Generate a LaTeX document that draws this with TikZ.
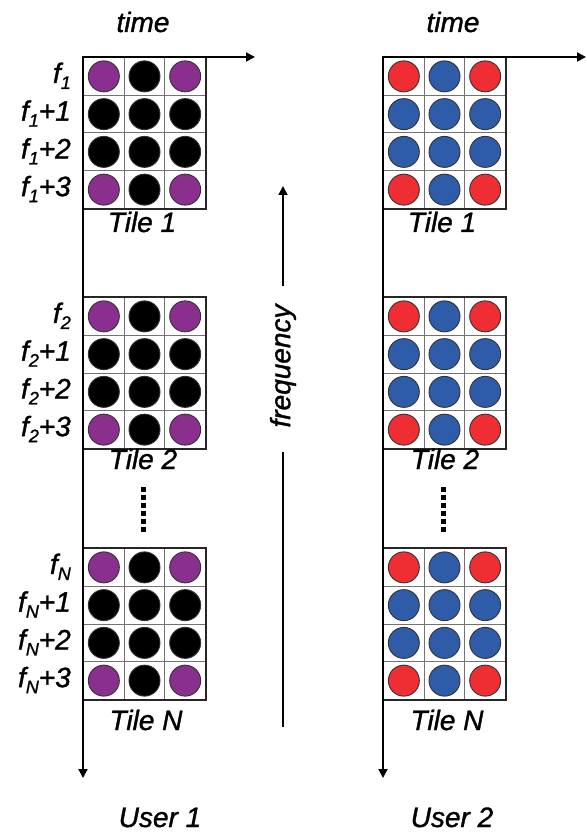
\documentclass[tikz,border=0pt]{standalone}
\usepackage{fontspec}
\setmainfont{Liberation Sans}
\newfontfamily\heavyfont[FakeBold=1.2]{Liberation Sans}
\usetikzlibrary{arrows.meta}
\definecolor{cpurple}{HTML}{8A2F8E}
\definecolor{cred}{HTML}{EE2E33}
\definecolor{cblue}{HTML}{2F5CA8}
\newcommand{\fsub}[1]{f\raisebox{-6pt}{\fontsize{18}{18}\selectfont #1}}
\begin{document}
\begin{tikzpicture}[x=1pt,y=-1pt,
  font=\heavyfont\fontsize{28}{30}\selectfont\itshape,
  cellbox/.style={draw=black!55, fill=white, line width=1pt, minimum width=40.67pt, minimum height=37.75pt, inner sep=0pt, anchor=north west},
  tileborder/.style={draw=black!85, line width=1.3pt},
  dotc/.style={circle, draw=black!80, line width=0.9pt, minimum size=31pt, inner sep=0pt},
  axis/.style={line width=1.8pt, -{Triangle[width=9pt,length=9pt]}},
  plainline/.style={line width=1.8pt},
  dotline/.style={line width=5pt, line cap=butt, dash pattern=on 5pt off 3pt},
  lbl/.style={anchor=base east, inner sep=0pt},
  txt/.style={anchor=base, inner sep=0pt}]
\useasboundingbox (0,0) rectangle (586,834);
% tiles
\foreach \u/\X/\ca/\cb in {1/83/cpurple/black, 2/383/cred/cblue}{
  \foreach \t/\Y in {1/57, 2/297, N/548}{
    \foreach \r in {1,...,4}{
      \foreach \c in {1,2,3}{
        \pgfmathtruncatemacro\corner{and(or(\r==1,\r==4),\c!=2)}
        \ifnum\corner=1 \def\cc{\ca}\else\def\cc{\cb}\fi
        \node[cellbox] (t\u\t-\r-\c) at ({\X+(\c-1)*40.67},{\Y+(\r-1)*37.75}) {};
        \node[dotc, fill=\cc] (d\u\t-\r-\c) at (t\u\t-\r-\c.center) {};
      }
    }
    \draw[tileborder] (t\u\t-1-1.north west) rectangle (t\u\t-4-3.south east);
  }
}
% row labels (user 1)
\foreach \t/\Y/\s in {1/57/1, 2/297/2, N/548/N}{
  \node[lbl] (l\t-0) at (71,{\Y+18.9+7}) {\fsub{\s}};
  \node[lbl] (l\t-1) at (71,{\Y+18.9+37.75+7}) {\fsub{\s}+1};
  \node[lbl] (l\t-2) at (71,{\Y+18.9+2*37.75+7}) {\fsub{\s}+2};
  \node[lbl] (l\t-3) at (71,{\Y+18.9+3*37.75+7}) {\fsub{\s}+3};
}
% tile labels
\node[txt] (tl11) at (142,232) {Tile 1};
\node[txt] (tl12) at (143,469) {Tile 2};
\node[txt] (tl1N) at (146,730) {Tile N};
\node[txt] (tl21) at (442,232) {Tile 1};
\node[txt] (tl22) at (445,469) {Tile 2};
\node[txt] (tl2N) at (447,730) {Tile N};
% titles
\node[txt] (time1) at (143,32) {time};
\node[txt] (time2) at (453,32) {time};
\node[txt] (user1) at (160,827) {User 1};
\node[txt] (user2) at (452,827) {User 2};
% axes
\coordinate (o1) at (83,57);
\coordinate (te1) at (255,57);
\coordinate (fe1) at (83,778);
\coordinate (o2) at (383,57);
\coordinate (te2) at (586,57);
\coordinate (fe2) at (383,778);
\draw[axis] (o1) -- (te1);
\draw[axis] (o1) -- (fe1);
\draw[axis] (o2) -- (te2);
\draw[axis] (o2) -- (fe2);
% dots
\coordinate (da1) at (143,487);
\coordinate (db1) at (143,532);
\coordinate (da2) at (443,487);
\coordinate (db2) at (443,532);
\draw[dotline] (da1) -- (db1);
\draw[dotline] (da2) -- (db2);
% frequency
\node[rotate=90, inner sep=0pt] (freq) at (283,366) {frequency};
\coordinate (fqs) at (283,286);
\coordinate (fqt) at (283,186);
\coordinate (fql1) at (283,452);
\coordinate (fql2) at (283,727);
\draw[axis] (fqs) -- (fqt);
\draw[plainline] (fql1) -- (fql2);
\end{tikzpicture}
\end{document}
